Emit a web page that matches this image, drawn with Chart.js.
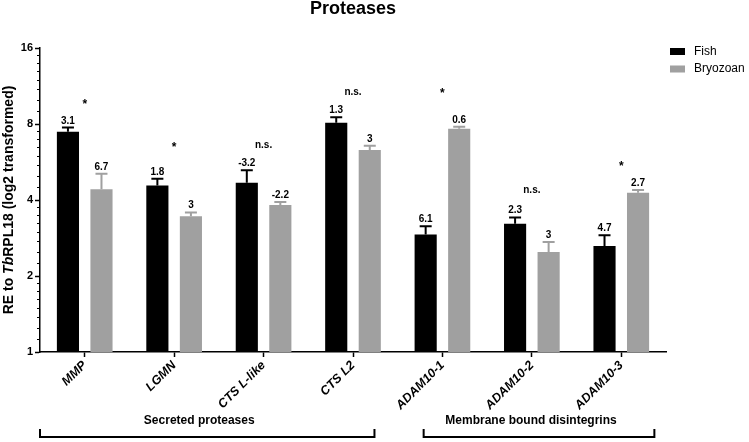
<!DOCTYPE html>
<html>
<head>
<meta charset="utf-8">
<script src="https://cdn.jsdelivr.net/npm/chart.js@4.4.1/dist/chart.umd.min.js"></script>
<style>
  html, body { margin: 0; padding: 0; background: #fff; }
  #wrap { width: 749px; height: 442px; }
</style>
</head>
<body>
<div id="wrap"><canvas id="myChart"></canvas></div>
<script>
const genes = ["MMP", "LGMN", "CTS L-like", "CTS L2", "ADAM10-1", "ADAM10-2", "ADAM10-3"];
const fishMean = [7.46, 4.57, 4.68, 8.09, 2.92, 3.22, 2.63];
const fishUpper = [7.74, 4.86, 5.25, 8.5, 3.15, 3.41, 2.9];
const bryoMean = [4.41, 3.45, 3.82, 6.31, 7.66, 2.49, 4.27];
const bryoUpper = [5.08, 3.57, 3.93, 6.56, 7.8, 2.73, 4.38];
const fishLabels = ["3.1", "1.8", "-3.2", "1.3", "6.1", "2.3", "4.7"];
const bryoLabels = ["6.7", "3", "-2.2", "3", "0.6", "3", "2.7"];
const sigText = ["*", "*", "n.s.", "n.s.", "*", "n.s.", "*"];
const sigLevel = [9.9, 6.67, 6.6, 10.7, 10.9, 4.38, 5.6];
const yTicks = [1, 2, 4, 8, 16];
const groupNames = ["Secreted proteases", "Membrane bound disintegrins"];
const groupFirst = [0, 4];
const groupLast = [3, 6];

const FONT = "'Liberation Sans', Arial, Helvetica, sans-serif";
Chart.defaults.font.family = FONT;
Chart.defaults.color = "#000";

const uppers = [fishUpper, bryoUpper];
const valueLabels = [fishLabels, bryoLabels];

// error bars, labels, title, legend and brackets
const decorations = {
  id: "decorations",
  afterDatasetsDraw(chart) {
    const { ctx, chartArea, scales } = chart;
    const x = scales.x, y = scales.y;
    ctx.save();

    // minor ticks on the log2 axis
    ctx.strokeStyle = "#000";
    ctx.lineWidth = 1;
    for (let k = 0; k < 4; k++) {
      for (let j = 1; j < 8; j++) {
        const py = Math.round(y.getPixelForValue(Math.pow(2, k) * (1 + j / 8))) + 0.5;
        ctx.beginPath();
        ctx.moveTo(chartArea.left, py);
        ctx.lineTo(chartArea.left - 3, py);
        ctx.stroke();
      }
    }

    // error bars + value labels
    chart.data.datasets.forEach((ds, i) => {
      const meta = chart.getDatasetMeta(i);
      meta.data.forEach((bar, j) => {
        const top = y.getPixelForValue(uppers[i][j]);
        ctx.strokeStyle = ds.backgroundColor;
        ctx.lineWidth = 2;
        ctx.beginPath();
        ctx.moveTo(bar.x, bar.y);
        ctx.lineTo(bar.x, top);
        ctx.moveTo(bar.x - 6, top);
        ctx.lineTo(bar.x + 6, top);
        ctx.stroke();

        ctx.fillStyle = "#000";
        ctx.font = "bold 10px " + FONT;
        ctx.textAlign = "center";
        ctx.textBaseline = "alphabetic";
        ctx.fillText(valueLabels[i][j], bar.x, top - 4);
      });
    });

    // significance marks
    genes.forEach((g, j) => {
      const px = x.getPixelForValue(j);
      const py = y.getPixelForValue(sigLevel[j]);
      ctx.fillStyle = "#000";
      ctx.textAlign = "center";
      ctx.textBaseline = "alphabetic";
      if (sigText[j] === "*") {
        ctx.font = "bold 12px " + FONT;
        ctx.fillText("*", px, py + 7);
      } else {
        ctx.font = "bold 10px " + FONT;
        ctx.fillText(sigText[j], px, py + 3);
      }
    });

    // title
    ctx.font = "bold 18px " + FONT;
    ctx.textAlign = "center";
    ctx.textBaseline = "alphabetic";
    ctx.fillText("Proteases", (chartArea.left + chartArea.right) / 2, 14);

    // y axis title with italic part
    const parts = [["RE to ", "bold"], ["Tb", "italic bold"], ["RPL18 (log2 transformed)", "bold"]];
    let total = 0;
    parts.forEach(p => { ctx.font = p[1] + " 14px " + FONT; total += ctx.measureText(p[0]).width; });
    ctx.translate(9, (chartArea.top + chartArea.bottom) / 2);
    ctx.rotate(-Math.PI / 2);
    ctx.textAlign = "left";
    ctx.textBaseline = "middle";
    let cx = -total / 2;
    parts.forEach(p => {
      ctx.font = p[1] + " 14px " + FONT;
      ctx.fillText(p[0], cx, 0);
      cx += ctx.measureText(p[0]).width;
    });
    ctx.setTransform(1, 0, 0, 1, 0, 0);

    // legend
    ctx.font = "12px " + FONT;
    ctx.textAlign = "left";
    ctx.textBaseline = "middle";
    chart.data.datasets.forEach((ds, i) => {
      const ly = 51.5 + i * 17.5;
      ctx.fillStyle = ds.backgroundColor;
      ctx.fillRect(chartArea.right + 4, ly - 3.5, 15, 7);
      ctx.fillStyle = "#000";
      ctx.fillText(ds.label, chartArea.right + 28, ly);
    });

    // group brackets
    ctx.strokeStyle = "#000";
    ctx.lineWidth = 2;
    const step = x.getPixelForValue(1) - x.getPixelForValue(0);
    groupNames.forEach((name, k) => {
      const left = k === 0 ? chartArea.left : x.getPixelForValue(groupFirst[k]) - step * 0.21;
      const right = x.getPixelForValue(groupLast[k]) + step * (k === 0 ? 0.24 : 0.37);
      ctx.beginPath();
      ctx.moveTo(left, 429);
      ctx.lineTo(left, 437);
      ctx.lineTo(right, 437);
      ctx.lineTo(right, 429);
      ctx.stroke();
      ctx.font = "bold 12px " + FONT;
      ctx.textAlign = "center";
      ctx.textBaseline = "middle";
      ctx.fillStyle = "#000";
      ctx.fillText(name, (left + right) / 2 - 8, 421);
    });

    ctx.restore();
  }
};

const ctx = document.getElementById("myChart").getContext("2d");
let proteaseChart = new Chart(ctx, {
  type: "bar",
  data: {
    labels: genes,
    datasets: [
      { label: "Fish", data: fishMean, backgroundColor: "#000000" },
      { label: "Bryozoan", data: bryoMean, backgroundColor: "#a0a0a0" },
    ],
  },
  options: {
    responsive: true,
    maintainAspectRatio: false,
    animation: false,
    categoryPercentage: 0.75,
    barPercentage: 0.66,
    layout: { padding: { top: 48, right: 83, left: 0, bottom: 0 } },
    plugins: {
      legend: { display: false },
      title: { display: false },
      tooltip: { enabled: false },
    },
    scales: {
      x: {
        offset: true,
        grid: { offset: false, drawOnChartArea: false, tickLength: 5, tickWidth: 1.5, tickColor: "#000" },
        border: { color: "#000", width: 1.5 },
        ticks: {
          color: "#000",
          autoSkip: false,
          minRotation: 45,
          maxRotation: 45,
          padding: 1,
          font: { size: 12.5, weight: "bold", style: "italic" },
        },
        afterFit: (s) => { s.height = 90; },
      },
      y: {
        type: "logarithmic",
        min: 1,
        max: 16,
        afterBuildTicks: (s) => { s.ticks = yTicks.map(v => ({ value: v, major: true })); },
        grid: { drawOnChartArea: false, tickLength: 5, tickWidth: 1.5, tickColor: "#000" },
        border: { color: "#000", width: 1.5 },
        ticks: {
          color: "#000",
          padding: 2,
          font: { size: 11, weight: "bold" },
          callback: (v) => String(v),
        },
        afterFit: (s) => { s.width = 40; },
      },
    },
  },
  plugins: [decorations],
});
</script>
</body>
</html>
